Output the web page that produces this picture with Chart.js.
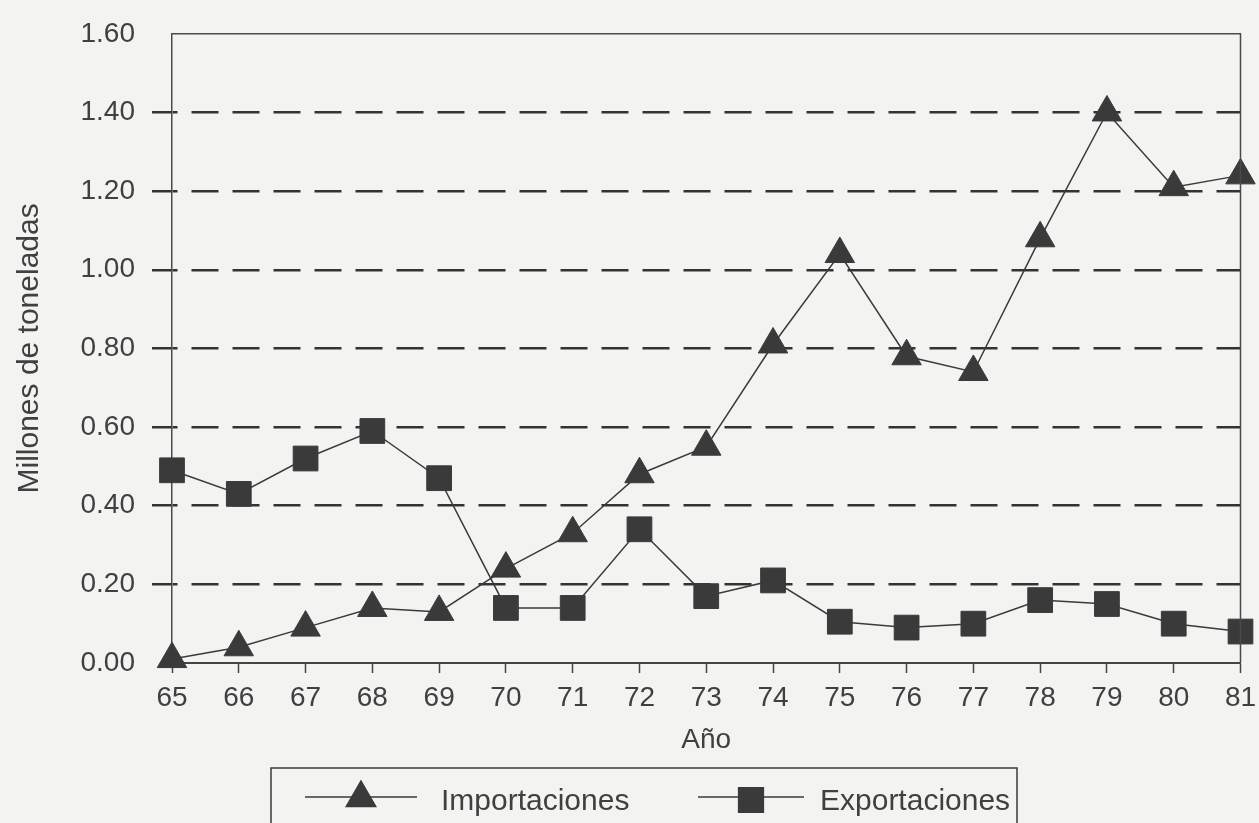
<!DOCTYPE html>
<html>
<head>
<meta charset="utf-8">
<script src="https://cdn.jsdelivr.net/npm/chart.js@4.4.0/dist/chart.umd.min.js"></script>
<style>
    body { margin: 0; background: #f3f4f2; }
    #wrap { width: 1259px; height: 823px; position: relative; }
</style>
</head>
<body>
<div id="wrap"><canvas id="tradeChart"></canvas></div>
<script>
const years = ['65', '66', '67', '68', '69', '70', '71', '72', '73', '74', '75', '76', '77', '78', '79', '80', '81'];
const importaciones = [0.01, 0.04, 0.09, 0.14, 0.13, 0.24, 0.33, 0.48, 0.55, 0.81, 1.04, 0.78, 0.74, 1.08, 1.40, 1.21, 1.24];
const exportaciones = [0.49, 0.43, 0.52, 0.59, 0.47, 0.14, 0.14, 0.34, 0.17, 0.21, 0.105, 0.09, 0.10, 0.16, 0.15, 0.10, 0.08];
const legendLabels = ['Importaciones', 'Exportaciones'];

const ink = '#3a3a3a';
const textColor = '#404040';
const fontFamily = '"Liberation Sans", Arial, sans-serif';

// top and right frame lines + boxed legend under the chart
const framePlugin = {
    id: 'frame',
    afterDraw(chart) {
        const { ctx, chartArea: a } = chart;
        ctx.save();
        ctx.strokeStyle = '#4a4a4a';
        ctx.lineWidth = 1.5;
        ctx.beginPath();
        ctx.moveTo(a.left, a.top);
        ctx.lineTo(a.right, a.top);
        ctx.lineTo(a.right, a.bottom);
        ctx.stroke();

        // legend box
        ctx.strokeStyle = '#3a3a3a';
        ctx.lineWidth = 1.5;
        ctx.strokeRect(271, 768, 746, 70);

        const entries = [
            { x0: 305, x1: 417, label: legendLabels[0], tx: 441, style: 'triangle', r: 17 },
            { x0: 698, x1: 804, label: legendLabels[1], tx: 820, style: 'rect', r: 17.5 }
        ];
        const ly = 797;
        entries.forEach(e => {
            ctx.strokeStyle = ink;
            ctx.lineWidth = 1.5;
            ctx.beginPath();
            ctx.moveTo(e.x0, ly);
            ctx.lineTo(e.x1, ly);
            ctx.stroke();
            ctx.fillStyle = ink;
            Chart.helpers.drawPoint(ctx, { pointStyle: e.style, radius: e.r, borderWidth: 1 },
                (e.x0 + e.x1) / 2, e.style === 'triangle' ? ly + 1 : ly + 3);
            ctx.fillStyle = textColor;
            ctx.font = '30px ' + fontFamily;
            ctx.textBaseline = 'alphabetic';
            ctx.textAlign = 'left';
            ctx.fillText(e.label, e.tx, 810);
        });
        ctx.restore();
    }
};

const edge = v => v === 0 || Math.abs(v - 1.6) < 1e-6;

new Chart(document.getElementById('tradeChart'), {
    type: 'line',
    data: {
        labels: years,
        datasets: [{
            label: legendLabels[0],
            data: importaciones,
            borderColor: ink,
            borderWidth: 1.5,
            backgroundColor: ink,
            pointStyle: 'triangle',
            pointRadius: 17,
            pointBackgroundColor: ink,
            pointBorderColor: ink,
            pointBorderWidth: 1,
            tension: 0
        }, {
            label: legendLabels[1],
            data: exportaciones,
            borderColor: ink,
            borderWidth: 1.5,
            backgroundColor: ink,
            pointStyle: 'rect',
            pointRadius: 17.5,
            pointBackgroundColor: ink,
            pointBorderColor: ink,
            pointBorderWidth: 1,
            tension: 0
        }]
    },
    options: {
        responsive: true,
        maintainAspectRatio: false,
        animation: false,
        clip: false,
        layout: {
            padding: { top: 30, right: 5, left: 0, bottom: 60 }
        },
        plugins: {
            legend: { display: false },
            tooltip: { enabled: false }
        },
        scales: {
            x: {
                offset: false,
                afterFit: s => {
                    s.height = 100;
                    s.paddingLeft = 0;
                    s.paddingRight = 0;
                },
                grid: {
                    drawOnChartArea: false,
                    drawTicks: true,
                    tickLength: 10,
                    tickColor: '#444',
                    tickWidth: 1.5
                },
                border: { display: true, color: '#444', width: 2 },
                ticks: {
                    color: textColor,
                    padding: 8,
                    autoSkip: false,
                    maxRotation: 0,
                    font: { family: fontFamily, size: 28 }
                },
                title: {
                    display: true,
                    text: 'Año',
                    color: textColor,
                    padding: { top: 4, bottom: 6 },
                    font: { family: fontFamily, size: 28 }
                }
            },
            y: {
                min: 0,
                max: 1.6,
                afterFit: s => { s.width = 172; },
                grid: {
                    color: ctx => edge(ctx.tick.value) ? 'rgba(0,0,0,0)' : '#333',
                    lineWidth: 2.5,
                    tickLength: 20,
                    tickColor: ctx => edge(ctx.tick.value) ? 'rgba(0,0,0,0)' : '#333',
                    tickWidth: 2.5
                },
                border: { display: true, color: '#4a4a4a', width: 1.5, dash: [27, 14], dashOffset: 22 },
                ticks: {
                    stepSize: 0.2,
                    padding: 17,
                    color: textColor,
                    font: { family: fontFamily, size: 28 },
                    callback: v => v.toFixed(2)
                },
                title: {
                    display: true,
                    text: 'Millones de toneladas',
                    color: textColor,
                    padding: { top: 12, bottom: 4 },
                    font: { family: fontFamily, size: 30 }
                }
            }
        }
    },
    plugins: [framePlugin]
});
</script>
</body>
</html>
